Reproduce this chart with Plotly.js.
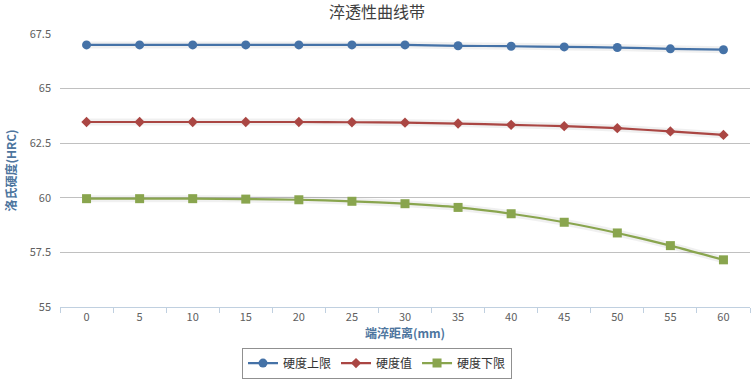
<!DOCTYPE html>
<html><head><meta charset="utf-8">
<script src="https://cdn.plot.ly/plotly-3.0.1.min.js"></script>
<style>html,body{margin:0;padding:0;background:#fff}#chart{width:754px;height:381px}</style>
</head><body><div id="chart"></div>
<script>
const distances = [0,5,10,15,20,25,30,35,40,45,50,55,60];
const upperHardness = [67.0,67.0,67.0,67.0,67.0,67.0,67.0,66.96,66.94,66.91,66.88,66.82,66.78];
const meanHardness = [63.47,63.47,63.47,63.47,63.47,63.46,63.44,63.4,63.34,63.28,63.19,63.04,62.88];
const lowerHardness = [59.96,59.96,59.96,59.94,59.91,59.84,59.73,59.56,59.27,58.88,58.39,57.81,57.16];
const seriesNames = ['硬度上限','硬度值','硬度下限'];
const yTicks = [55,57.5,60,62.5,65,67.5];

const cats = distances.map(String);
const colors = ['#4572a7','#aa4643','#89a54e'];
const symbols = ['circle','diamond','square'];
const sizes = [9,8,9];
const data = [upperHardness, meanHardness, lowerHardness];
const traces = [];
data.forEach((ys,i)=>{
  traces.push({x:cats,y:ys,type:'scatter',mode:'lines',showlegend:false,hoverinfo:'skip',
    line:{color:'rgba(0,0,0,0.06)',width:7,shape:'spline',smoothing:0.5}});
});
data.forEach((ys,i)=>{
  traces.push({x:cats,y:ys,type:'scatter',mode:'lines+markers',name:seriesNames[i],
    line:{color:colors[i],width:2.2,shape:'spline',smoothing:0.5},
    marker:{color:colors[i],symbol:symbols[i],size:sizes[i]}});
});
const layout = {
  width:754,height:381,
  margin:{l:60,r:4,t:34,b:74},
  paper_bgcolor:'#fff',plot_bgcolor:'#fff',
  font:{family:'"Noto Sans CJK SC", "DejaVu Sans", sans-serif',color:'#666'},
  title:{text:'淬透性曲线带',font:{size:16,color:'#3e3e3e'},xref:'container',x:0.5,xanchor:'center',yref:'container',y:0.968,yanchor:'middle'},
  xaxis:{type:'category',range:[-0.5,12.5],tickson:'boundaries',ticks:'outside',ticklen:5,tickcolor:'#c0d0e0',
    showline:true,linecolor:'#c0d0e0',showgrid:false,zeroline:false,
    tickfont:{size:11,color:'#606060'},
    title:{text:'<b>端淬距离(mm)</b>',font:{size:12,color:'#4d759e'},standoff:4}},
  yaxis:{range:[55,67.5],tickvals:yTicks,ticktext:yTicks.map(String),showgrid:true,gridcolor:'#c0c0c0',gridwidth:1,
    zeroline:false,showline:false,ticks:'',tickfont:{size:11,color:'#606060'},ticklabelstandoff:8,
    title:{text:'<b>洛氏硬度(HRC)</b>',font:{size:12,color:'#4d759e'},standoff:10}},
  legend:{orientation:'h',xref:'container',x:0.5,xanchor:'center',yref:'container',y:0.047,yanchor:'middle',
    bordercolor:'#909090',borderwidth:1,font:{size:12,color:'#333'},itemwidth:30},
  showlegend:true
};
Plotly.newPlot('chart',traces,layout,{displayModeBar:false,staticPlot:true});
</script></body></html>
